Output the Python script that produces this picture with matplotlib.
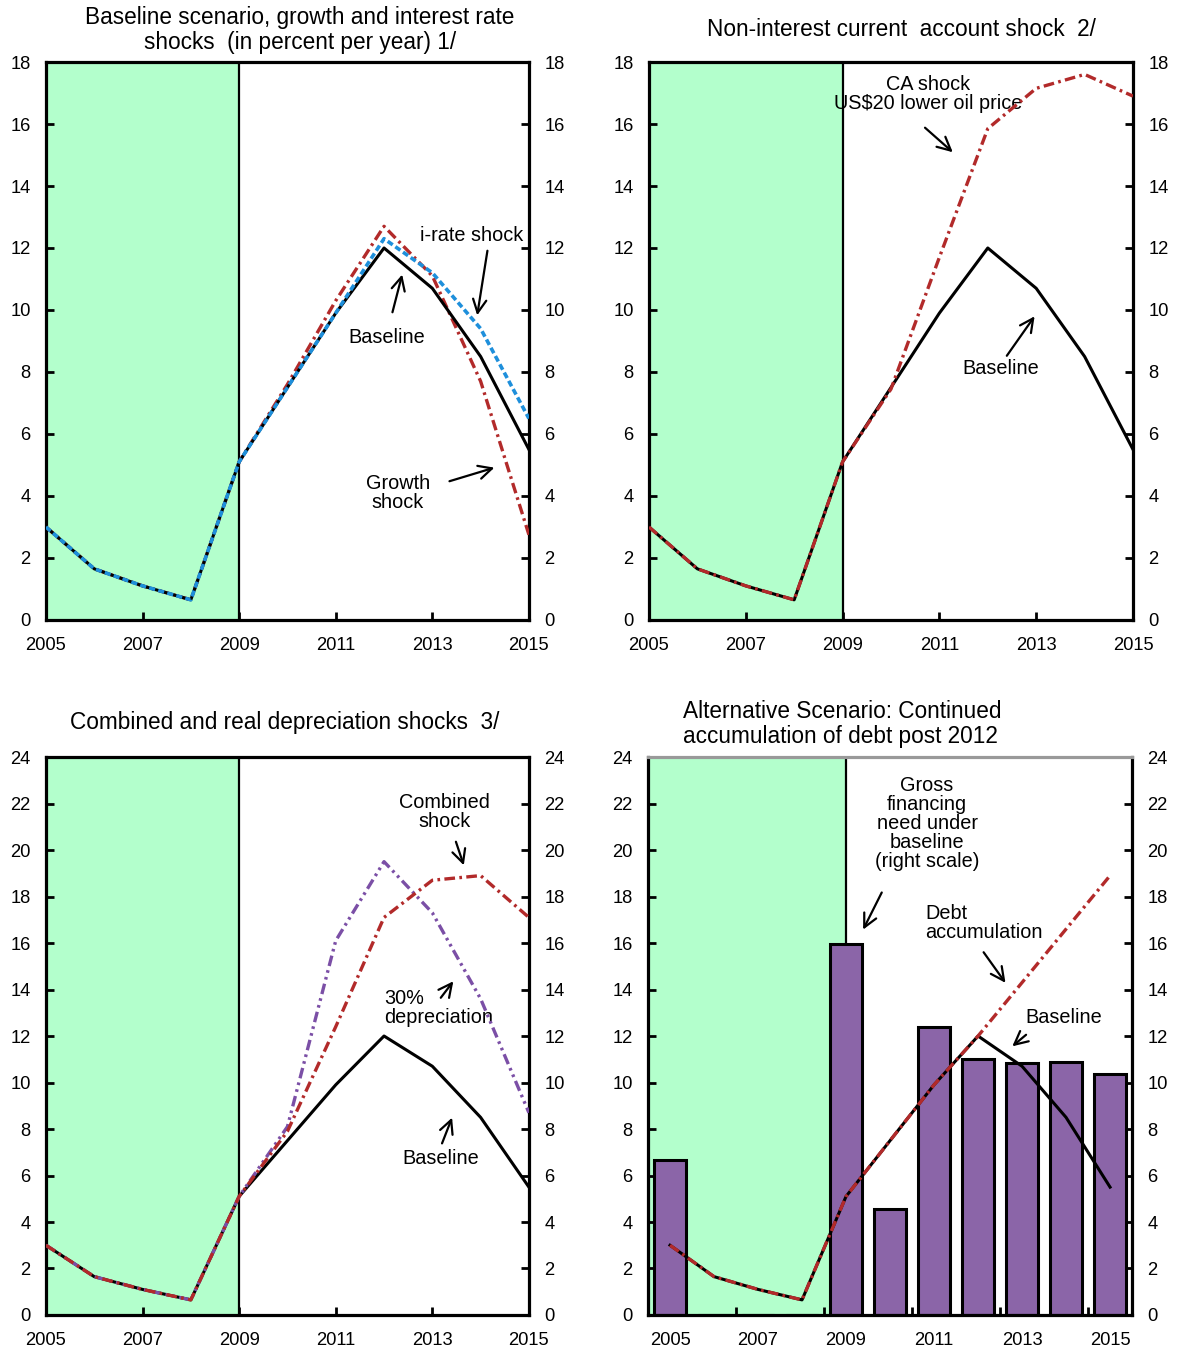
import numpy as np
import matplotlib
matplotlib.use("Agg")
import matplotlib.pyplot as plt

plt.rcParams['font.family'] = ['Liberation Sans', 'DejaVu Sans']

years = list(range(2005, 2016))
baseline = [3.0, 1.65, 1.1, 0.65, 5.1, 7.5, 9.9, 12.0, 10.7, 8.5, 5.5]
growth_shock = [3.0, 1.65, 1.1, 0.65, 5.1, 7.6, 10.3, 12.7, 11.1, 7.7, 2.75]
irate_shock = [3.0, 1.65, 1.1, 0.65, 5.1, 7.5, 9.9, 12.3, 11.2, 9.4, 6.5]
ca_shock = [3.0, 1.65, 1.1, 0.65, 5.1, 7.45, 11.7, 15.85, 17.15, 17.6, 16.9]
combined_shock = [3.0, 1.65, 1.1, 0.65, 5.1, 7.9, 12.4, 17.1, 18.7, 18.9, 17.1]
depreciation_shock = [3.0, 1.65, 1.1, 0.65, 5.1, 8.1, 16.1, 19.5, 17.3, 13.6, 8.7]
debt_accum = [3.0, 1.65, 1.1, 0.65, 5.1, 7.5, 9.9, 12.0, 14.3, 16.6, 18.9]
gross_financing = [6.65, 0, 0, 0, 15.95, 4.57, 12.4, 11.0, 10.85, 10.9, 10.35]

green = '#B3FFCC'
red = '#B22A2A'
blue = '#1E8FDB'
purple = '#7B4FA6'
barcol = '#8B65A8'

dashdot = [3.2, 1.3, 0.8, 1.3]
dashdotdot = [3.2, 1.3, 0.8, 1.3, 0.8, 1.3]
shortdash = [1.7, 0.9]

fig = plt.figure(figsize=(11.78, 13.51), dpi=100)

def style_axes(ax, ymax, xlim):
    ax.set_xlim(*xlim)
    ax.set_ylim(0, ymax)
    ax.set_yticks(np.arange(0, ymax + 1, 2))
    ax.tick_params(axis='y', which='both', direction='in', left=True, right=True,
                   labelleft=True, labelright=True, length=6, width=2, labelsize=13.2, pad=11)
    for s in ax.spines.values():
        s.set_linewidth(2.3)

def shade(ax, x0):
    ax.axvspan(x0, 2009, color=green, zorder=0, lw=0)
    ax.axvline(2009, color='k', lw=1.6, zorder=1)

def year_ticks(ax):
    ax.set_xticks(years[::2])
    ax.set_xticklabels([str(y) for y in years[::2]])
    ax.tick_params(axis='x', direction='in', length=6, width=2, labelsize=13.2, pad=12)

def note(ax, text, xy, xytext, txt_pos, ha='center'):
    ax.annotate('', xy=xy, xytext=xytext,
                arrowprops=dict(arrowstyle='->', lw=1.6, color='k', mutation_scale=24))
    ax.text(txt_pos[0], txt_pos[1], text, ha=ha, va='center', fontsize=14.3, linespacing=1.0)

# top left
ax1 = fig.add_axes([0.0390, 0.5411, 0.4100, 0.4130])
style_axes(ax1, 18, (2005, 2015))
shade(ax1, 2005)
year_ticks(ax1)
ax1.plot(years, growth_shock, color=red, lw=2.4, dashes=dashdot, zorder=3)
ax1.plot(years, baseline, color='k', lw=2.2, zorder=4)
ax1.plot(years, irate_shock, color=blue, lw=2.6, dashes=shortdash, zorder=5)
note(ax1, 'i-rate shock', (2013.92, 9.74), (2014.15, 12.0), (2013.82, 12.39))
note(ax1, 'Baseline', (2012.39, 11.23), (2012.16, 9.84), (2012.06, 9.1))
note(ax1, 'Growth\nshock', (2014.34, 4.94), (2013.30, 4.45), (2012.29, 4.1))

# top right
ax2 = fig.add_axes([0.5509, 0.5411, 0.4109, 0.4130])
style_axes(ax2, 18, (2005, 2015))
shade(ax2, 2005)
year_ticks(ax2)
ax2.plot(years, baseline, color='k', lw=2.2, zorder=3)
ax2.plot(years, ca_shock, color=red, lw=2.4, dashes=dashdot, zorder=4)
note(ax2, 'CA shock\nUS$20 lower oil price', (2011.32, 15.03), (2010.66, 15.94), (2010.76, 16.97))
note(ax2, 'Baseline', (2013.0, 9.87), (2012.36, 8.45), (2012.27, 8.1))

# bottom left
ax3 = fig.add_axes([0.0390, 0.02665, 0.4100, 0.4130])
style_axes(ax3, 24, (2005, 2015))
shade(ax3, 2005)
year_ticks(ax3)
ax3.plot(years, baseline, color='k', lw=2.2, zorder=3)
ax3.plot(years, depreciation_shock, color=purple, lw=2.4, dashes=dashdotdot, zorder=4)
ax3.plot(years, combined_shock, color=red, lw=2.4, dashes=dashdot, zorder=5)
note(ax3, 'Combined\nshock', (2013.67, 19.23), (2013.47, 20.47), (2013.26, 21.63))
note(ax3, '30%\ndepreciation', (2013.47, 14.45), (2013.14, 13.55), (2012.0, 13.2), ha='left')
note(ax3, 'Baseline', (2013.43, 8.6), (2013.18, 7.27), (2013.18, 6.71))

# bottom right
ax4 = fig.add_axes([0.5501, 0.02665, 0.4109, 0.4130])
style_axes(ax4, 24, (2004.5, 2015.5))
shade(ax4, 2004.5)
ax4.set_xticks(years[::2])
ax4.set_xticklabels([str(y) for y in years[::2]])
ax4.set_xticks([2006.5, 2008.5, 2010.5, 2012.5, 2014.5], minor=True)
ax4.tick_params(axis='x', which='major', length=0, labelsize=13.2, pad=12)
ax4.tick_params(axis='x', which='minor', direction='in', length=6, width=2)
ax4.spines['top'].set_color('#999999')
ax4.bar(years, gross_financing, width=0.72, color=barcol, edgecolor='k', lw=2.2, zorder=2)
ax4.plot(years, baseline, color='k', lw=2.2, zorder=3)
ax4.plot(years, debt_accum, color=red, lw=2.4, dashes=dashdot, zorder=4)
note(ax4, 'Gross\nfinancing\nneed under\nbaseline\n(right scale)', (2009.36, 16.47), (2009.84, 18.28), (2010.84, 21.16))
note(ax4, 'Debt\naccumulation', (2012.66, 14.19), (2012.09, 15.7), (2010.8, 16.86), ha='left')
note(ax4, 'Baseline', (2012.73, 11.48), (2013.14, 12.13), (2013.95, 12.8))

# titles
fig.text(300 / 1178, 1 - 30 / 1351, 'Baseline scenario, growth and interest rate\nshocks  (in percent per year) 1/',
         ha='center', va='center', fontsize=16.3, linespacing=1.15)
fig.text(901 / 1178, 1 - 30 / 1351, 'Non-interest current  account shock  2/',
         ha='center', va='center', fontsize=16.3)
fig.text(285 / 1178, 1 - 722 / 1351, 'Combined and real depreciation shocks  3/',
         ha='center', va='center', fontsize=16.3)
fig.text(683 / 1178, 1 - 724 / 1351, 'Alternative Scenario: Continued\naccumulation of debt post 2012',
         ha='left', va='center', fontsize=16.3, linespacing=1.15)

fig.savefig('out.png', dpi=100)
